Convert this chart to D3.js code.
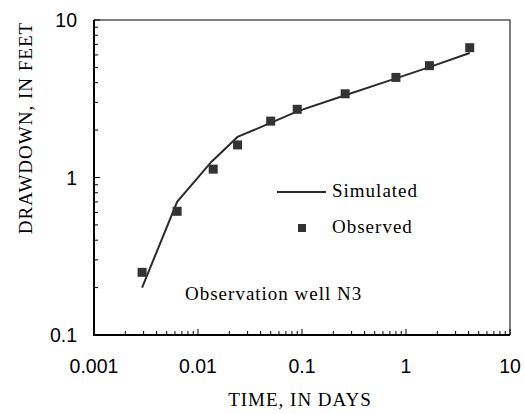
<!DOCTYPE html>
<html>
<head>
<meta charset="utf-8">
<script src="https://cdn.jsdelivr.net/npm/d3@7"></script>
<style>
  body { margin: 0; background: #fff; }
  svg { display: block; }
</style>
</head>
<body>
<svg id="chart" width="525" height="414"></svg>
<script>
// observed drawdown, well N3
const obsTime = [0.0029, 0.0063, 0.014, 0.024, 0.050, 0.090, 0.26, 0.80, 1.68, 4.1];
const obsDraw = [0.25, 0.61, 1.13, 1.61, 2.28, 2.71, 3.40, 4.32, 5.13, 6.67];

// simulated curve
const simTime = [0.0029, 0.0063, 0.0135, 0.024, 0.050, 0.090, 0.26, 0.80, 1.68, 4.1];
const simDraw = [0.20, 0.70, 1.26, 1.81, 2.22, 2.63, 3.33, 4.26, 5.02, 6.17];

const xTicks = [0.001, 0.01, 0.1, 1, 10];
const xTickLabels = ["0.001", "0.01", "0.1", "1", "10"];
const yTicks = [0.1, 1, 10];
const yTickLabels = ["0.1", "1", "10"];

const svg = d3.select("#chart");
const pL = 94, pR = 510, pT = 20, pB = 335;

const x = d3.scaleLog().domain([0.001, 10]).range([pL, pR]);
const y = d3.scaleLog().domain([0.1, 10]).range([pB, pT]);

// minor ticks 2..9 per decade
const minor = (lo, hi) => {
  let out = [];
  for (let d = lo; d < hi; d *= 10)
    for (let k = 2; k <= 9; k++) out.push(d * k);
  return out;
};

// frame, top and right
svg.append("path")
  .attr("d", `M${pL},${pT}H${pR}V${pB}`)
  .attr("fill", "none")
  .attr("stroke", "#555")
  .attr("stroke-width", 1.5);

// minor ticks
svg.append("g").selectAll("line")
  .data(minor(0.001, 10))
  .enter().append("line")
  .attr("x1", d => x(d)).attr("x2", d => x(d))
  .attr("y1", pB).attr("y2", pB - 4)
  .attr("stroke", "#000").attr("stroke-width", 1);

svg.append("g").selectAll("line")
  .data(minor(0.1, 10))
  .enter().append("line")
  .attr("y1", d => y(d)).attr("y2", d => y(d))
  .attr("x1", pL).attr("x2", pL + 4)
  .attr("stroke", "#000").attr("stroke-width", 1);

// major ticks
svg.append("g").selectAll("line")
  .data(xTicks)
  .enter().append("line")
  .attr("x1", d => x(d)).attr("x2", d => x(d))
  .attr("y1", pB).attr("y2", pB - 6)
  .attr("stroke", "#000").attr("stroke-width", 1);

svg.append("g").selectAll("line")
  .data(yTicks)
  .enter().append("line")
  .attr("y1", d => y(d)).attr("y2", d => y(d))
  .attr("x1", pL).attr("x2", pL + 6)
  .attr("stroke", "#000").attr("stroke-width", 1);

// left and bottom axes
svg.append("path")
  .attr("d", `M${pL},${pT}V${pB}H${pR}`)
  .attr("fill", "none")
  .attr("stroke", "#000")
  .attr("stroke-width", 2);

// tick labels
svg.append("g").selectAll("text")
  .data(xTicks)
  .enter().append("text")
  .attr("x", d => x(d))
  .attr("y", 373)
  .attr("text-anchor", "middle")
  .style("font-family", "'Liberation Sans', Arial, sans-serif")
  .style("font-size", "19.5px")
  .text((d, i) => xTickLabels[i]);

svg.append("g").selectAll("text")
  .data(yTicks)
  .enter().append("text")
  .attr("x", 77)
  .attr("y", d => y(d) + 7)
  .attr("text-anchor", "end")
  .style("font-family", "'Liberation Sans', Arial, sans-serif")
  .style("font-size", "19.5px")
  .text((d, i) => yTickLabels[i]);

// titles
const serif = "'Liberation Serif', 'Times New Roman', serif";
svg.append("text")
  .attr("x", 300).attr("y", 406)
  .attr("text-anchor", "middle")
  .style("font-family", serif).style("font-size", "19px")
  .style("letter-spacing", "1px")
  .text("TIME, IN DAYS");

svg.append("text")
  .attr("transform", "translate(32,128) rotate(-90)")
  .attr("text-anchor", "middle")
  .style("font-family", serif).style("font-size", "19px")
  .style("letter-spacing", "1px")
  .text("DRAWDOWN, IN FEET");

// simulated line
const line = d3.line()
  .x(d => x(d[0]))
  .y(d => y(d[1]));

svg.append("path")
  .datum(simTime.map((t, i) => [t, simDraw[i]]))
  .attr("d", line)
  .attr("fill", "none")
  .attr("stroke", "#2b2b2b")
  .attr("stroke-width", 2);

// observed points
const ms = 9;
svg.append("g").selectAll("rect")
  .data(obsTime.map((t, i) => [t, obsDraw[i]]))
  .enter().append("rect")
  .attr("x", d => x(d[0]) - ms / 2)
  .attr("y", d => y(d[1]) - ms / 2)
  .attr("width", ms).attr("height", ms)
  .attr("fill", "#333");

// legend
svg.append("line")
  .attr("x1", 277).attr("x2", 326)
  .attr("y1", 192).attr("y2", 192)
  .attr("stroke", "#2b2b2b").attr("stroke-width", 2);
svg.append("rect")
  .attr("x", 298).attr("y", 224)
  .attr("width", 8).attr("height", 8)
  .attr("fill", "#333");

svg.append("text")
  .attr("x", 332).attr("y", 197)
  .style("font-family", serif).style("font-size", "19px")
  .style("letter-spacing", "1px")
  .text("Simulated");
svg.append("text")
  .attr("x", 332).attr("y", 233)
  .style("font-family", serif).style("font-size", "19px")
  .style("letter-spacing", "1px")
  .text("Observed");

svg.append("text")
  .attr("x", 185).attr("y", 300)
  .style("font-family", serif).style("font-size", "19px")
  .style("letter-spacing", "1px")
  .text("Observation well N3");
</script>
</body>
</html>
